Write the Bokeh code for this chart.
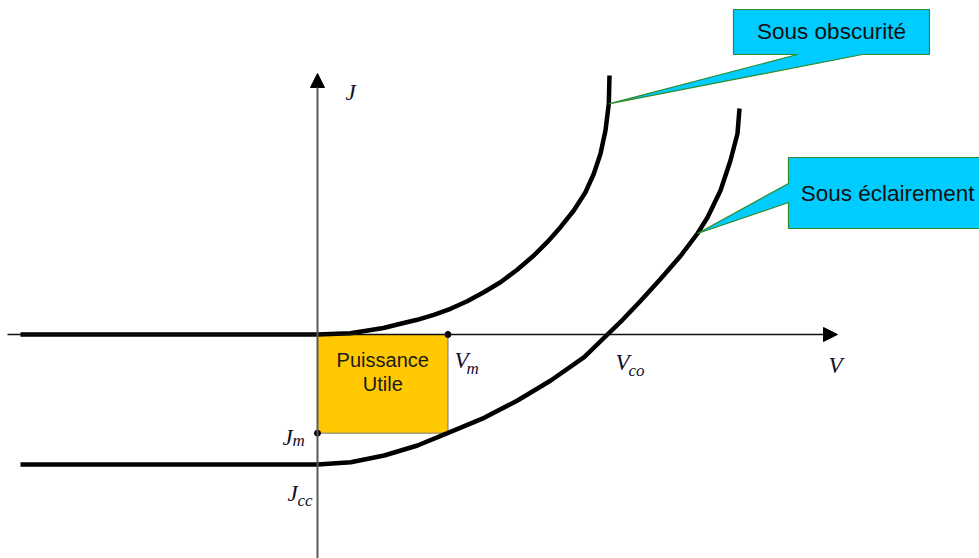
from bokeh.plotting import figure
from bokeh.models import Range1d, Arrow, NormalHead
from bokeh.core.properties import value
from bokeh.embed import file_html
from bokeh.resources import INLINE

# Normalised units: V in units of V_co, J in units of |J_cc|
V_CO = 1.0
J_CC = -1.0
V_M = 0.45
J_M = -0.759

# Dark characteristic (sous obscurité)
dark_v = [-1.0241, 0.0, 0.1138, 0.2276, 0.2862, 0.3438, 0.4010, 0.4586, 0.5162,
          0.5734, 0.6310, 0.6886, 0.7459, 0.7921, 0.8379, 0.8838, 0.9241, 0.9528,
          0.9759, 0.9931, 1.0045, 1.0069]
dark_j = [0.0, 0.0, 0.0100, 0.0500, 0.0823, 0.1131, 0.1515, 0.1977, 0.2562,
          0.3254, 0.4023, 0.4977, 0.6077, 0.7100, 0.8254, 0.9538, 1.0946, 1.2362,
          1.3900, 1.5692, 1.7746, 1.9923]

# Illuminated characteristic (sous éclairement)
light_v = [-1.0241, 0.0, 0.1148, 0.2300, 0.3448, 0.4483, 0.5748, 0.6897, 0.8045,
           0.9197, 1.0, 1.0448, 1.1138, 1.1828, 1.2517, 1.3103, 1.3448, 1.3897,
           1.4241, 1.4483, 1.4552]
light_j = [-1.0, -1.0, -0.9823, -0.9308, -0.8538, -0.7592, -0.6408, -0.5077, -0.3538,
           -0.1746, 0.0, 0.0962, 0.2577, 0.4269, 0.6038, 0.7769, 0.9, 1.1077,
           1.3385, 1.5462, 1.7385]

DARK_TIP = 20   # dark-curve point the upper callout points to
LIGHT_TIP = 15  # illuminated-curve point the lower callout points to

X_RANGE = (-1.0931, 2.2828)
Y_RANGE = (-1.7231, 2.5692)

p = figure(width=979, height=558, x_range=Range1d(*X_RANGE), y_range=Range1d(*Y_RANGE),
           x_axis_type=None, y_axis_type=None, toolbar_location=None,
           output_backend="svg", min_border=0, outline_line_color=None,
           background_fill_color="white", border_fill_color="white")
p.grid.visible = False

# Useful power rectangle
p.quad(left=0, right=V_M, top=0, bottom=J_M, fill_color="#FFC800",
       line_color="#7a7a7a", line_width=1)

# Axes with arrow heads
p.add_layout(Arrow(end=NormalHead(size=14, fill_color="black", line_color="black"),
                   x_start=-1.069, y_start=0, x_end=1.7931, y_end=0,
                   line_color="#111111", line_width=1.3))
p.add_layout(Arrow(end=NormalHead(size=14, fill_color="black", line_color="black"),
                   x_start=0, y_start=Y_RANGE[0], x_end=0, y_end=2.0077,
                   line_color="#5a5a5a", line_width=2))

# Characteristics
p.line(dark_v, dark_j, line_color="black", line_width=4.5, line_join="round")
p.line(light_v, light_j, line_color="black", line_width=4.5, line_join="round")

# Operating point markers
p.scatter([V_M, 0], [0, J_M], size=6, color="black")

# Callouts
cyan = "#00CCFF"
green = "#2E8B2E"
tip1 = (dark_v[DARK_TIP], dark_j[DARK_TIP])
p.patch([1.4345, 2.1103, 2.1103, 1.8793, tip1[0], 1.6552, 1.4345],
        [2.5, 2.5, 2.1538, 2.1538, tip1[1], 2.1538, 2.1538],
        fill_color=cyan, line_color=green, line_width=1.2)
tip2 = (light_v[LIGHT_TIP], light_j[LIGHT_TIP])
p.patch([1.6241, 2.33, 2.33, 1.6241, 1.6241, tip2[0], 1.6241],
        [1.3615, 1.3615, 0.8154, 0.8154, 1.0154, tip2[1], 1.1615],
        fill_color=cyan, line_color=green, line_width=1.2)

sans = value("Liberation Sans")
p.text(x=[1.7724], y=[2.3269], text=["Sous obscurité"], text_font=sans,
       text_font_size="22.5px", text_align="center", text_baseline="middle",
       text_color="#111111")
p.text(x=[1.666], y=[1.0846], text=["Sous éclairement"], text_font=sans,
       text_font_size="22.5px", text_align="left", text_baseline="middle",
       text_color="#111111")
p.text(x=[V_M / 2, V_M / 2], y=[-0.2, -0.377], text=["Puissance", "Utile"],
       text_font=sans, text_font_size="20px", text_align="center",
       text_baseline="middle", text_color="#1a1a1a")

# Italic math-style labels with subscripts
serif = value("Liberation Serif")
ink = "#10102a"
main_x = [0.0966, 1.762, 0.4724, 1.0276, -0.1207, -0.1034]
main_y = [1.86, -0.2385, -0.2, -0.2154, -0.7923, -1.2231]
main_t = ["J", "V", "V", "V", "J", "J"]
p.text(x=main_x, y=main_y, text=main_t, text_font=serif, text_font_style="italic",
       text_font_size="23px", text_align="left", text_baseline="alphabetic",
       text_color=ink)
sub_x = [0.5138, 1.0724, -0.0862, -0.069]
sub_y = [-0.2615, -0.2769, -0.8154, -1.2769]
sub_t = ["m", "co", "m", "cc"]
p.text(x=sub_x, y=sub_y, text=sub_t, text_font=serif, text_font_style="italic",
       text_font_size="17px", text_align="left", text_baseline="alphabetic",
       text_color=ink)

open("out.html", "w").write(file_html(p, INLINE))
